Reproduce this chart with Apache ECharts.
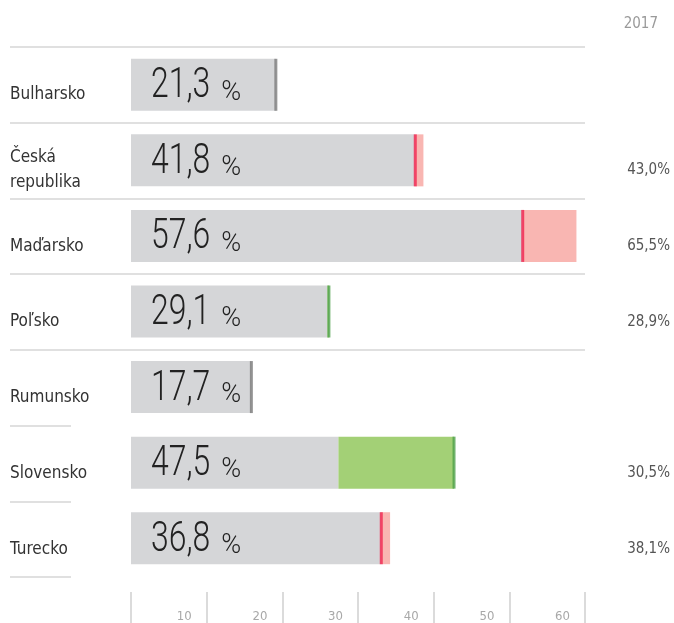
<!DOCTYPE html>
<html>
<head>
<meta charset="utf-8">
<script src="https://cdn.jsdelivr.net/npm/echarts@6/dist/echarts.min.js"></script>
<style>
  html, body { margin: 0; padding: 0; background: #fff; }
  #chart { width: 674px; height: 623px; }
</style>
</head>
<body>
<div id="chart"></div>
<script>
// ===== data =====
const countries = ['Bulharsko', 'Česká\nrepublika', 'Maďarsko', 'Poľsko', 'Rumunsko', 'Slovensko', 'Turecko']
const current = [21.3, 41.8, 57.6, 29.1, 17.7, 47.5, 36.8]
const prev2017 = [null, 43.0, 65.5, 28.9, null, 30.5, 38.1]
const tickValues = [0, 10, 20, 30, 40, 50, 60]

const FONT = '"DejaVu Sans Condensed", "Liberation Sans Narrow", sans-serif'
const NUM_FONT = '300 42px Roboto'
const PCT_FONT = '300 27px Roboto'
const NUM_SCALE = 0.76
const fmt = (v, d) => v.toFixed(d).replace('.', ',')

// gray base, green growth, pink drop
const grayVals = current.map((c, i) => prev2017[i] == null ? c : Math.min(c, prev2017[i]))
const greenVals = current.map((c, i) => prev2017[i] == null ? 0 : Math.max(0, c - prev2017[i]))
const pinkVals = current.map((c, i) => prev2017[i] == null ? 0 : Math.max(0, prev2017[i] - c))
const markerColor = current.map((c, i) => {
  if (prev2017[i] == null) return '#7a7a7a'
  return c >= prev2017[i] ? '#4da04a' : '#f0224e'
})

// measure number width so the % sign follows the squeezed number
const ctx = document.createElement('canvas').getContext('2d')
ctx.font = NUM_FONT
const textWidth = (s) => ctx.measureText(s).width

const chart = echarts.init(document.getElementById('chart'))

const TOP = 47, HEIGHT = 530
const lineCol = '#e0e0e0', none = 'rgba(0,0,0,0)'

// big value label: condensed number + normal % sign
function renderValueLabel(params, api) {
  const i = api.value(1)
  const p = api.coord([0, i])
  const num = fmt(current[i], 1)
  const x = p[0] + 20
  return {
    type: 'group',
    children: [
      {
        type: 'text', x: x, y: p[1] + 2, scaleX: NUM_SCALE,
        style: { text: num, font: NUM_FONT, fill: '#222', align: 'left', verticalAlign: 'middle' },
      },
      {
        type: 'text', x: x + textWidth(num) * NUM_SCALE + 11, y: p[1] + 8,
        style: { text: '%', font: PCT_FONT, fill: '#222', align: 'left', verticalAlign: 'middle' },
      },
    ],
  }
}

const option = {
  animation: false,
  title: {
    text: '2017',
    right: 11,
    top: 12,
    textStyle: { fontFamily: FONT, fontSize: 15, fontWeight: 'normal', color: '#9a9a9a' },
  },
  grid: [
    { left: 131, width: 454, top: TOP, height: HEIGHT },
    { left: 10, width: 575, top: TOP, height: HEIGHT },
    { left: 10, width: 61, top: TOP, height: HEIGHT },
    // text rows sit a little below the bar centres
    { left: 131, width: 454, top: TOP + 10, height: HEIGHT },
  ],
  xAxis: [
    { gridIndex: 0, type: 'value', min: 0, max: 66.76, show: false },
    {
      gridIndex: 0, type: 'value', min: 0, max: 60, interval: 10,
      position: 'bottom', offset: 16,
      axisLine: { show: false },
      splitLine: { show: false },
      axisTick: { show: true, length: 34, lineStyle: { color: '#d0d0d0', width: 1.5 } },
      axisLabel: {
        show: true, align: 'right', margin: 18, padding: [0, 15, 0, 0],
        fontFamily: FONT, fontSize: 13, color: '#a8a8a8',
        formatter: (v) => tickValues.indexOf(v) > 0 ? String(v) : '',
      },
    },
    { gridIndex: 1, type: 'value', show: false },
    { gridIndex: 2, type: 'value', show: false },
    { gridIndex: 3, type: 'value', show: false },
  ],
  yAxis: [
    {
      gridIndex: 0, type: 'category', inverse: true, data: countries,
      axisLine: { show: false }, axisTick: { show: false }, splitLine: { show: false }, axisLabel: { show: false },
    },
    {
      gridIndex: 3, type: 'category', inverse: true, data: countries,
      axisLine: { show: false }, axisTick: { show: false }, splitLine: { show: false },
      axisLabel: {
        align: 'left', margin: 121,
        fontFamily: FONT, fontSize: 17, lineHeight: 25, color: '#333',
      },
    },
    {
      gridIndex: 3, type: 'category', inverse: true, data: countries, position: 'right',
      axisLine: { show: false }, axisTick: { show: false }, splitLine: { show: false },
      axisLabel: {
        align: 'right', margin: 85,
        fontFamily: FONT, fontSize: 15, color: '#555',
        formatter: (v, i) => prev2017[i] == null ? '' : fmt(prev2017[i], 1) + '%',
      },
    },
    {
      gridIndex: 1, type: 'category', inverse: true, data: countries,
      axisLine: { show: false }, axisTick: { show: false }, axisLabel: { show: false },
      splitLine: { show: true, lineStyle: { width: 2, color: [lineCol, lineCol, lineCol, lineCol, lineCol, none, none, none] } },
    },
    {
      gridIndex: 2, type: 'category', inverse: true, data: countries,
      axisLine: { show: false }, axisTick: { show: false }, axisLabel: { show: false },
      splitLine: { show: true, lineStyle: { width: 2, color: [none, none, none, none, none, lineCol, lineCol, lineCol] } },
    },
  ],
  series: [
    {
      type: 'bar', stack: 'a', xAxisIndex: 0, yAxisIndex: 0,
      data: grayVals, barWidth: 52, itemStyle: { color: '#d5d6d8' },
    },
    {
      type: 'bar', stack: 'a', xAxisIndex: 0, yAxisIndex: 0,
      data: greenVals, barWidth: 52, itemStyle: { color: '#a3d076' },
    },
    {
      type: 'bar', stack: 'a', xAxisIndex: 0, yAxisIndex: 0,
      data: pinkVals, barWidth: 52, itemStyle: { color: '#f9b6b2' },
    },
    {
      type: 'scatter', xAxisIndex: 0, yAxisIndex: 0,
      symbol: 'rect', symbolSize: [3, 52],
      data: current.map((c, i) => ({ value: [c, i], itemStyle: { color: markerColor[i] } })),
      z: 5,
    },
    {
      type: 'custom', xAxisIndex: 0, yAxisIndex: 0,
      data: current.map((c, i) => [0, i]),
      renderItem: renderValueLabel,
      z: 6,
    },
  ],
}

chart.setOption(option)
</script>
</body>
</html>
